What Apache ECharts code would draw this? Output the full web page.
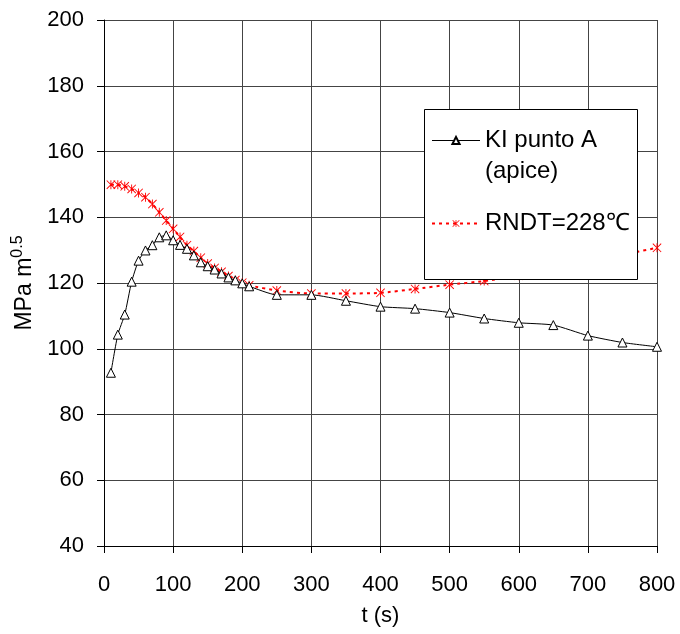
<!DOCTYPE html>
<html>
<head>
<meta charset="utf-8">
<script src="https://cdn.jsdelivr.net/npm/echarts@6/dist/echarts.min.js"></script>
<style>
html,body{margin:0;padding:0;background:#fff;}
#chart{width:680px;height:634px;}
</style>
</head>
<body>
<div id="chart"></div>
<script>
const tValues = [10,20,30,40,50,60,70,80,90,100,110,120,130,140,150,160,170,180,190,200,210,250,300,350,400,450,500,550,600,650,700,750,800];
const kiPuntoA = [92.7,104.3,110.4,120.4,126.8,129.9,131.5,133.9,134.5,133.0,131.6,130.4,128.4,126.3,125.1,124.1,122.9,121.7,120.8,119.9,119.0,116.4,116.4,114.6,112.8,112.2,111.0,109.2,107.9,107.2,104.0,101.9,100.6];
const rndt228 = [149.9,149.9,149.4,148.6,147.4,146.1,144.0,141.5,139.0,136.5,134.0,131.5,129.7,127.7,125.9,124.6,123.4,122.1,120.9,120.1,119.3,117.7,116.8,116.8,117.0,118.2,119.5,120.6,122.2,124.2,126.4,128.6,130.7];
const xTicks = [0,100,200,300,400,500,600,700,800];
const yTicks = [40,60,80,100,120,140,160,180,200];
const seriesNames = ['KI punto A', 'RNDT=228\u2103'];
const legendLabels = ['\nKI punto A\n(apice)', 'RNDT=228\u2103'];

const asterisk = 'path://M9 0 L11 0 L11 20 L9 20 Z M0 1.4 L1.4 0 L20 18.6 L18.6 20 Z M18.6 0 L20 1.4 L1.4 20 L0 18.6 Z';
const FONT = '"Liberation Sans", Arial, sans-serif';

const chart = echarts.init(document.getElementById('chart'), null, {renderer: 'canvas'});
chart.setOption({
  animation: false,
  backgroundColor: '#fff',
  grid: {left: 104, right: 23, top: 20, bottom: 88, containLabel: false},
  xAxis: {
    type: 'value', min: xTicks[0], max: xTicks[xTicks.length-1], interval: 100,
    name: 't (s)', nameLocation: 'middle', nameGap: 59,
    nameTextStyle: {fontFamily: FONT, fontSize: 22, color: '#000'},
    axisLine: {show: true, onZero: false, lineStyle: {color: '#000', width: 1}},
    axisTick: {show: true, inside: false, length: 7, lineStyle: {color: '#000'}},
    axisLabel: {fontFamily: FONT, fontSize: 22, color: '#000', margin: 28},
    splitLine: {show: true, lineStyle: {color: '#444', width: 1}}
  },
  yAxis: {
    type: 'value', min: yTicks[0], max: yTicks[yTicks.length-1], interval: 20,
    name: 'MPa m{sup|0.5}', nameLocation: 'middle', nameGap: 61, nameRotate: 90,
    nameTextStyle: {fontFamily: FONT, fontSize: 23, color: '#000',
      rich: {sup: {fontFamily: FONT, fontSize: 16, color: '#000', padding: [0,0,14,0]}}},
    axisLine: {show: true, onZero: false, lineStyle: {color: '#000', width: 1}},
    axisTick: {show: true, inside: false, length: 7, lineStyle: {color: '#000'}},
    axisLabel: {fontFamily: FONT, fontSize: 22, color: '#000', margin: 20},
    splitLine: {show: true, lineStyle: {color: '#444', width: 1}}
  },
  graphic: [{
    type: 'rect', z: 10, silent: true,
    shape: {x: 424.5, y: 109.5, width: 213, height: 170},
    style: {fill: '#fff', stroke: '#000', lineWidth: 1}
  }],
  legend: {
    orient: 'vertical', left: 431, top: 94, padding: 0, z: 20,
    itemGap: 21, itemWidth: 48, itemHeight: 9,
    formatter: function (name) { return legendLabels[seriesNames.indexOf(name)]; },
    textStyle: {fontFamily: FONT, fontSize: 24, color: '#000', lineHeight: 31},
    data: [
      {name: seriesNames[0], lineStyle: {color: '#000', width: 1, type: 'solid'}},
      {name: seriesNames[1], lineStyle: {color: '#ff0000', width: 2, type: [3, 4]}}
    ]
  },
  series: [
    {
      name: seriesNames[0], type: 'line', smooth: 0.2,
      data: tValues.map((t, i) => [t, kiPuntoA[i]]),
      symbol: 'triangle', symbolSize: 9,
      lineStyle: {color: '#000', width: 1},
      itemStyle: {color: '#fff', borderColor: '#000', borderWidth: 1},
      z: 3
    },
    {
      name: seriesNames[1], type: 'line', smooth: 0.2,
      data: tValues.map((t, i) => [t, rndt228[i]]),
      symbol: asterisk, symbolSize: 9,
      lineStyle: {color: '#ff0000', width: 2, type: [3, 4]},
      itemStyle: {color: '#ff0000'},
      z: 2
    }
  ]
});
</script>
</body>
</html>
